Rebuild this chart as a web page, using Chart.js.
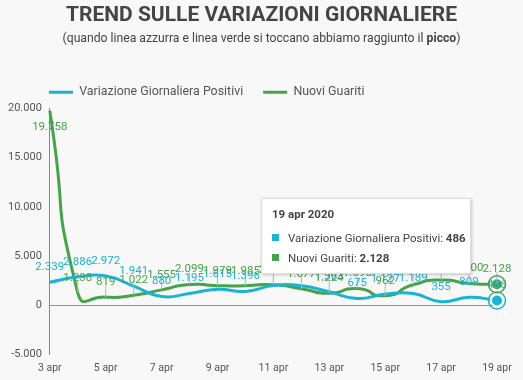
<!DOCTYPE html>
<html>
<head>
<meta charset="utf-8">
<script src="https://cdn.jsdelivr.net/npm/chart.js@4"></script>
<style>
  body { margin: 0; background: #f8f8f8; font-family: Roboto, sans-serif; }
  #wrap { position: relative; width: 523px; height: 380px; }
  #title { position: absolute; top: 2px; left: 0; width: 523px; text-align: center; font-size: 21px; font-weight: bold; color: #444; }
  #sub { position: absolute; top: 31px; left: 0; width: 523px; text-align: center; font-size: 12.2px; color: #444; }
  #tip { position: absolute; width: 208px; height: 74px; background: #fff; border: 1px solid #ddd;
         box-shadow: 1px 1px 3px rgba(0,0,0,0.2); font-size: 11.5px; color: #444; }
  #tip .t { position: absolute; left: 10px; top: 8px; font-weight: bold; }
  #tip .r { position: absolute; left: 10px; white-space: nowrap; }
  #tip .sq { display: inline-block; width: 7px; height: 7px; margin-right: 9px; vertical-align: 1px; }
</style>
</head>
<body>
<div id="wrap">
  <canvas id="myChart" width="523" height="380"></canvas>
  <div id="title">TREND SULLE VARIAZIONI GIORNALIERE</div>
  <div id="sub">(quando linea azzurra e linea verde si toccano abbiamo raggiunto il <b>picco</b>)</div>
  <div id="tip"></div>
</div>
<script>
var labels = ['3 apr', '4 apr', '5 apr', '6 apr', '7 apr', '8 apr', '9 apr', '10 apr', '11 apr',
              '12 apr', '13 apr', '14 apr', '15 apr', '16 apr', '17 apr', '18 apr', '19 apr'];
var positivi = [2339, 2886, 2972, 1941, 880, 1195, 1615, 1396, 1996, 1984, 1363, 675, 1127, 1189, 355, 809, 486];
var guariti = [19758, 1238, 819, 1022, 1555, 2099, 1979, 1985, 2079, 1677, 1224, 1695, 962, 2072, 2563, 2200, 2128];
var yTicks = [-5000, 0, 5000, 10000, 15000, 20000];

var blue = '#1ab3d3';
var green = '#46a24b';
var last = labels.length - 1;

function fmt(v) {
  return String(v).replace(/\B(?=(\d{3})+(?!\d))/g, '.');
}

var ctx = document.getElementById("myChart").getContext("2d");

var extras = {
  id: 'extras',
  afterLayout: function(chart) {
    chart.legend.left = 29;
  },
  afterDatasetsDraw: function(chart) {
    var c = chart.ctx;
    var area = chart.chartArea;
    // little gray sticks above the green points
    var gm = chart.getDatasetMeta(1);
    c.save();
    c.strokeStyle = '#b5b5b5';
    c.lineWidth = 1;
    gm.data.forEach(function(p, i) {
      if (i === 0) return;
      c.beginPath();
      c.moveTo(p.x, p.y);
      c.lineTo(p.x, p.y - 12);
      c.stroke();
    });
    // value labels
    c.font = '11.5px Roboto';
    c.textAlign = 'center';
    c.textBaseline = 'middle';
    chart.data.datasets.forEach(function(ds, di) {
      var meta = chart.getDatasetMeta(di);
      c.fillStyle = ds.borderColor;
      meta.data.forEach(function(p, i) {
        var y = p.y - 15;
        if (y < area.top + 6) y = p.y + 16;
        c.fillText(fmt(ds.data[i]), p.x, y);
      });
    });
    // outer ring for the highlighted last points
    chart.data.datasets.forEach(function(ds, di) {
      var p = chart.getDatasetMeta(di).data[last];
      c.strokeStyle = ds.borderColor;
      c.lineWidth = 1.5;
      c.beginPath();
      c.arc(p.x, p.y, 8.5, 0, Math.PI * 2);
      c.stroke();
    });
    c.restore();
  }
};

function lastOnly(big) {
  return function(context) { return context.dataIndex === last ? big : 0; };
}

var myChart = new Chart(ctx, {
  type: 'line',
  data: {
    labels: labels,
    datasets: [{
      label: 'Variazione Giornaliera Positivi',
      data: positivi,
      borderColor: blue,
      backgroundColor: blue,
      borderWidth: 3,
      tension: 0.5,
      pointRadius: lastOnly(6),
      pointBorderWidth: 2,
      pointBorderColor: '#fff',
      pointBackgroundColor: blue
    }, {
      label: 'Nuovi Guariti',
      data: guariti,
      borderColor: green,
      backgroundColor: green,
      borderWidth: 3,
      tension: 0.7,
      pointRadius: lastOnly(6),
      pointBorderWidth: 2,
      pointBorderColor: '#fff',
      pointBackgroundColor: green
    }]
  },
  options: {
    responsive: false,
    animation: false,
    events: [],
    layout: { padding: { top: 66, right: 26, bottom: -3, left: 0 } },
    plugins: {
      tooltip: { enabled: false },
      legend: {
        align: 'start',
        labels: {
          boxWidth: 24,
          boxHeight: 3,
          padding: 20,
          color: '#555',
          font: { family: 'Roboto', size: 12.4 },
          generateLabels: function(chart) {
            return Chart.defaults.plugins.legend.labels.generateLabels(chart).map(function(l) {
              l.fillStyle = l.strokeStyle;
              l.lineWidth = 0;
              return l;
            });
          }
        }
      }
    },
    scales: {
      x: {
        grid: { display: false, drawTicks: false },
        border: { display: false },
        ticks: {
          autoSkip: false,
          maxRotation: 0,
          padding: 8,
          color: '#555',
          font: { family: 'Roboto', size: 10.5 },
          callback: function(v, i) { return i % 2 === 0 ? labels[i] : ''; }
        }
      },
      y: {
        min: yTicks[0],
        max: yTicks[yTicks.length - 1],
        afterBuildTicks: function(scale) {
          scale.ticks = yTicks.map(function(v) { return { value: v }; });
        },
        border: { display: true, color: '#888', width: 1 },
        grid: {
          drawTicks: false,
          color: function(c) { return c.tick && c.tick.value === 0 ? '#999' : 'rgba(0,0,0,0)'; }
        },
        ticks: {
          padding: 8,
          color: '#555',
          font: { family: 'Roboto', size: 11 },
          callback: function(v) { return fmt(v); }
        }
      }
    }
  },
  plugins: [extras]
});

var pt = myChart.getDatasetMeta(0).data[last];
var tip = document.getElementById('tip');
tip.style.left = (pt.x - 26 - 210) + 'px';
tip.style.top = '198px';
tip.innerHTML =
  '<div class="t">' + labels[last] + ' 2020</div>' +
  '<div class="r" style="top:32px"><span class="sq" style="background:' + blue + '"></span>' +
  'Variazione Giornaliera Positivi: <b>' + fmt(positivi[last]) + '</b></div>' +
  '<div class="r" style="top:52px"><span class="sq" style="background:' + green + '"></span>' +
  'Nuovi Guariti: <b>' + fmt(guariti[last]) + '</b></div>';
</script>
</body>
</html>
